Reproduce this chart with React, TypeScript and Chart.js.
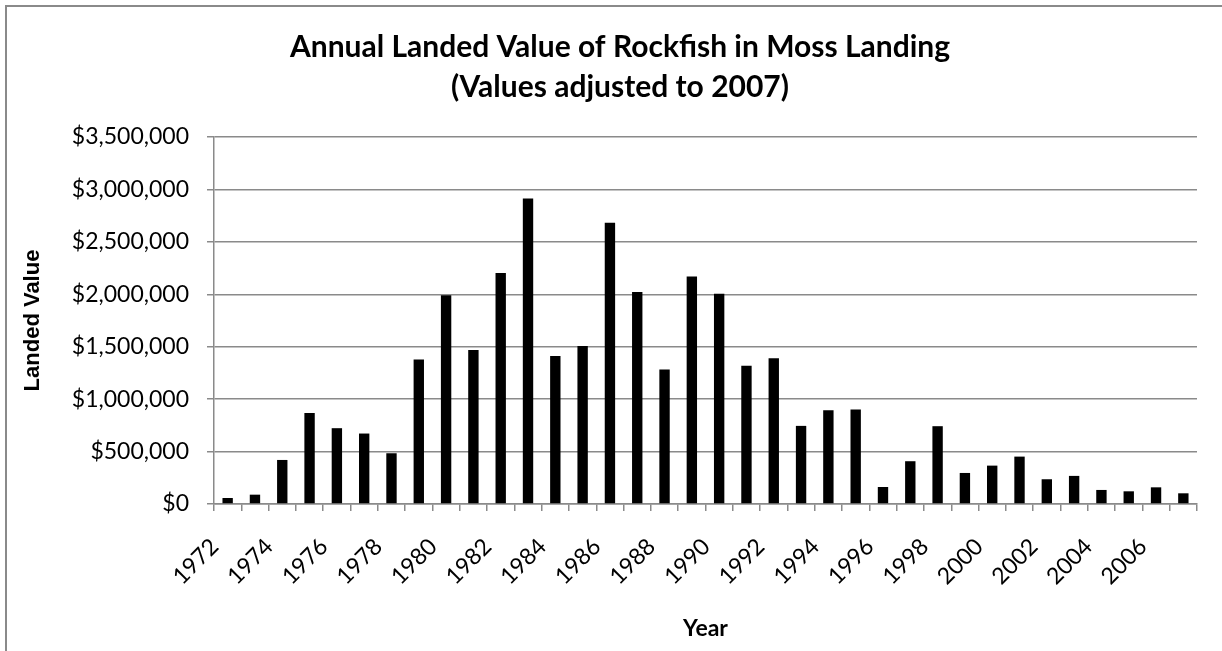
import React, { useEffect, useRef } from "react";
import { Chart, registerables } from "chart.js";

Chart.register(...registerables);

// Landing years, one bar per year
const years: string[] = [
  "1972", "1973", "1974", "1975", "1976", "1977", "1978", "1979", "1980", "1981",
  "1982", "1983", "1984", "1985", "1986", "1987", "1988", "1989", "1990", "1991",
  "1992", "1993", "1994", "1995", "1996", "1997", "1998", "1999", "2000", "2001",
  "2002", "2003", "2004", "2005", "2006", "2007",
];

// Landed value of rockfish in dollars, adjusted to 2007
const landedValue: number[] = [
  57000, 89000, 420000, 869000, 723000, 672000, 484000, 1379000, 1990000, 1468000,
  2204000, 2914000, 1411000, 1506000, 2682000, 2022000, 1283000, 2169000, 2006000, 1318000,
  1389000, 745000, 895000, 901000, 162000, 408000, 742000, 296000, 366000, 452000,
  236000, 268000, 134000, 121000, 159000, 102000,
];

const titleLines: string[] = [
  "Annual Landed Value of Rockfish in Moss Landing",
  "(Values adjusted to 2007)",
];
const yAxisTitle = "Landed Value";
const xAxisTitle = "Year";

const yMin = 0;
const yMax = 3500000;
const yStep = 500000;

const GRID = "#8a8a8a";
const TICK_FONT = { family: "Lato", size: 23 };

// Thin gray frame around the whole chart
const framePlugin = {
  id: "frame",
  beforeDraw(chart: Chart) {
    const ctx = chart.ctx;
    ctx.save();
    ctx.strokeStyle = GRID;
    ctx.lineWidth = 2;
    ctx.strokeRect(6, 6, chart.width + 100, chart.height + 100);
    ctx.restore();
  },
};

export default function App() {
  const canvasRef = useRef<HTMLCanvasElement | null>(null);

  useEffect(() => {
    if (!canvasRef.current) return;
    const chart = new Chart(canvasRef.current, {
      type: "bar",
      data: {
        labels: years,
        datasets: [
          {
            data: landedValue,
            backgroundColor: "#000000",
            borderWidth: 0,
            barPercentage: 0.38,
            categoryPercentage: 1,
          },
        ],
      },
      options: {
        responsive: false,
        animation: false,
        layout: { padding: 0 },
        plugins: {
          legend: { display: false },
          tooltip: { enabled: false },
          title: {
            display: true,
            text: titleLines,
            color: "#000000",
            font: { family: "Lato", size: 30, weight: "bold", lineHeight: 40 / 30 },
            padding: { top: 27, bottom: 30 },
          },
        },
        scales: {
          x: {
            type: "category",
            grid: {
              display: true,
              offset: true,
              drawOnChartArea: false,
              drawTicks: true,
              tickLength: 7,
              color: GRID,
              lineWidth: 1.5,
            },
            border: { display: true, color: GRID, width: 1.5 },
            ticks: {
              autoSkip: false,
              minRotation: 45,
              maxRotation: 45,
              padding: 22,
              labelOffset: -13,
              color: "#000000",
              font: TICK_FONT,
              callback: (_v: any, index: number) => (index % 2 === 0 ? years[index] : ""),
            },
            title: {
              display: true,
              text: xAxisTitle,
              color: "#000000",
              font: { family: "Lato", size: 23, weight: "bold", lineHeight: 1.2 },
              padding: { top: 0, bottom: 9 },
            },
            afterFit: (scale: any) => {
              scale.height = 147;
            },
          },
          y: {
            type: "linear",
            position: "left",
            min: yMin,
            max: yMax,
            grid: {
              color: GRID,
              lineWidth: 1.5,
              drawTicks: true,
              tickLength: 7,
            },
            border: { display: true, color: GRID, width: 1.5 },
            ticks: {
              stepSize: yStep,
              padding: 18,
              color: "#000000",
              font: TICK_FONT,
              callback: (v: any) => "$" + Number(v).toLocaleString("en-US"),
            },
            title: {
              display: true,
              text: yAxisTitle,
              color: "#000000",
              font: { family: "Liberation Sans", size: 22, weight: "bold", lineHeight: 1.2 },
              padding: { top: 20, bottom: 0 },
            },
            afterFit: (scale: any) => {
              scale.width = 214;
            },
          },
          yRight: {
            type: "linear",
            position: "right",
            display: true,
            grid: { display: false, drawOnChartArea: false },
            border: { display: false },
            ticks: { display: false },
            afterFit: (scale: any) => {
              scale.width = 43;
            },
          },
        },
      },
      plugins: [framePlugin],
    });
    return () => chart.destroy();
  }, []);

  return (
    <div
      style={{
        position: "fixed",
        left: 0,
        top: 0,
        width: 1222,
        height: 651,
        overflow: "hidden",
        background: "#ffffff",
      }}
    >
      <canvas ref={canvasRef} width={1240} height={651} style={{ display: "block" }} />
    </div>
  );
}
